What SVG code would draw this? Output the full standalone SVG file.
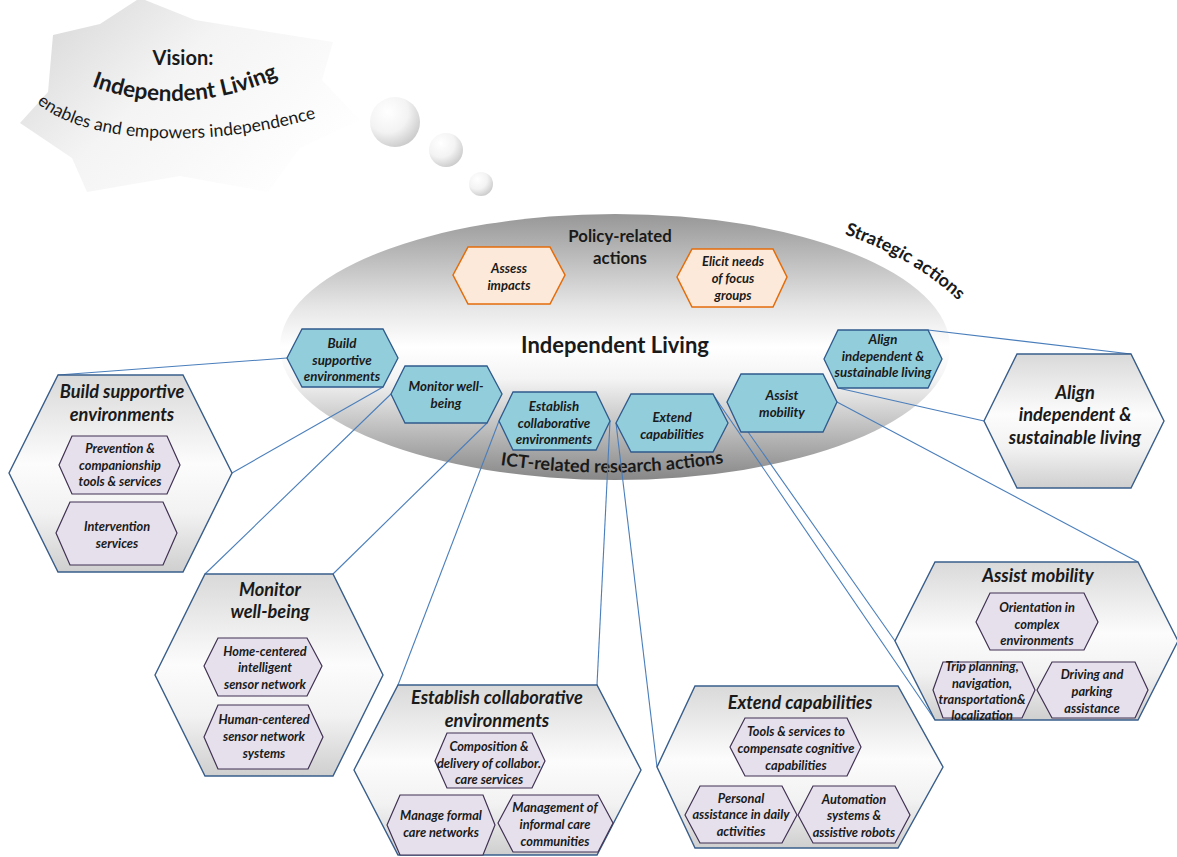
<svg xmlns="http://www.w3.org/2000/svg" width="1177" height="857" viewBox="0 0 1177 857">
<defs>
<linearGradient id="gEll" x1="0" y1="0" x2="0" y2="1">
<stop offset="0" stop-color="#979797"/><stop offset="0.35" stop-color="#e6e6e6"/><stop offset="0.5" stop-color="#ffffff"/><stop offset="0.62" stop-color="#f4f4f4"/><stop offset="1" stop-color="#878787"/>
</linearGradient>
<linearGradient id="gBig" x1="0" y1="0" x2="0" y2="1">
<stop offset="0" stop-color="#d9d9d9"/><stop offset="0.45" stop-color="#fcfcfc"/><stop offset="0.7" stop-color="#f2f2f2"/><stop offset="1" stop-color="#cfcfcf"/>
</linearGradient>
<linearGradient id="gCloud" x1="0" y1="0.1" x2="1" y2="0.7">
<stop offset="0" stop-color="#d6d6d6"/><stop offset="0.45" stop-color="#f4f4f4"/><stop offset="1" stop-color="#ffffff"/>
</linearGradient>
<radialGradient id="gBub" cx="0.35" cy="0.3" r="0.75">
<stop offset="0" stop-color="#ffffff"/><stop offset="0.55" stop-color="#f3f3f3"/><stop offset="1" stop-color="#cacaca"/>
</radialGradient>
<style>
.blue{fill:#92cddc;stroke:#2f5a8c;stroke-width:1.3}
.orange{fill:#fde9d9;stroke:#e46c0a;stroke-width:1.5}
.sub{fill:#e5e0ec;stroke:#403152;stroke-width:1.2}
.big{fill:url(#gBig);stroke:#385d8a;stroke-width:1.4}
.conn line{stroke:#4a7ebb;stroke-width:1.1}
text{font-family:Lato,"Open Sans","Liberation Sans",sans-serif;fill:#1a1a1a}
.t{font-weight:bold;font-style:italic;font-size:13.3px;text-anchor:middle}
.to{font-weight:bold;font-style:italic;font-size:13px;text-anchor:middle}
.ts{font-weight:bold;font-style:italic;font-size:12.8px;text-anchor:middle}
.tb{font-weight:bold;font-style:italic;font-size:18.2px;text-anchor:middle}
.h{font-weight:bold;text-anchor:middle}
</style>
</defs>
<rect width="1177" height="857" fill="#ffffff"/>

<g id="vision">
<polygon points="53,35 100,24 140,-2 195,20 333,42 322,80 360,120 300,148 268,192 180,176 87,192 72,158 20,123 48,92" fill="url(#gCloud)"/>
<text class="h" x="183" y="65" font-size="20">Vision:</text>
<path id="pIL" d="M 88 85 Q 182 121 282 76" fill="none"/>
<text class="h" font-size="22.5"><textPath href="#pIL" startOffset="50%">Independent Living</textPath></text>
<path id="pEn" d="M 34 100 C 75 142, 200 152, 320 117" fill="none"/>
<text font-size="17.5" text-anchor="middle"><textPath href="#pEn" startOffset="50%">enables and empowers independence</textPath></text>
<circle cx="395" cy="122" r="25" fill="url(#gBub)"/>
<circle cx="446" cy="150" r="17" fill="url(#gBub)"/>
<circle cx="481" cy="184" r="12" fill="url(#gBub)"/>
</g>

<g id="core">
<ellipse cx="615" cy="347" rx="335" ry="133" fill="url(#gEll)"/>
<text class="h" x="620" y="242" font-size="16.8">Policy-related</text>
<text class="h" x="620" y="264" font-size="16.8">actions</text>
<text class="h" x="615" y="353" font-size="22">Independent Living</text>
<path id="pICT" d="M 494 464 Q 612 482 730 462" fill="none"/>
<text class="h" font-size="18"><textPath href="#pICT" startOffset="50%">ICT-related research actions</textPath></text>
<path id="pStr" d="M 834 231 Q 915 256 966 308" fill="none"/>
<text class="h" font-size="18"><textPath href="#pStr" startOffset="50%">Strategic actions</textPath></text>
</g>

<g id="connectors" class="conn">
<line x1="287" y1="358" x2="58" y2="375"/>
<line x1="383" y1="387" x2="232" y2="473"/>
<line x1="391" y1="394" x2="205" y2="574"/>
<line x1="487" y1="423" x2="333" y2="574"/>
<line x1="499" y1="421" x2="398" y2="685"/>
<line x1="610" y1="421" x2="597" y2="685"/>
<line x1="616" y1="423" x2="657" y2="767"/>
<line x1="714" y1="396" x2="935" y2="720"/>
<line x1="727" y1="402" x2="895" y2="641"/>
<line x1="837" y1="402" x2="1138" y2="562"/>
<line x1="928" y1="330" x2="1131" y2="354"/>
<line x1="838" y1="388" x2="984" y2="421"/>
</g>

<g id="assess-impacts">
<polygon class="orange" points="453,275 468,247 550,247 565,275 550,304 468,304"/>
<text class="to" x="509" y="273">Assess</text><text class="to" x="509" y="290">impacts</text>
</g>
<g id="elicit-needs">
<polygon class="orange" points="677,277 692,249 773,249 787,277 773,307 692,307"/>
<text class="to" x="733" y="266">Elicit needs</text><text class="to" x="733" y="283">of focus</text><text class="to" x="733" y="300">groups</text>
</g>

<g id="s-build">
<polygon class="blue" points="287,358 302,329 383,329 398,358 383,387 302,387"/>
<text class="t" x="342" y="348">Build</text><text class="t" x="342" y="365">supportive</text><text class="t" x="342" y="381">environments</text>
</g>
<g id="s-monitor">
<polygon class="blue" points="391,394 405,366 487,366 502,394 487,423 405,423"/>
<text class="t" x="446" y="391">Monitor well-</text><text class="t" x="446" y="408">being</text>
</g>
<g id="s-establish">
<polygon class="blue" points="499,421 513,392 596,392 610,421 596,450 513,450"/>
<text class="t" x="554" y="411">Establish</text><text class="t" x="554" y="428">collaborative</text><text class="t" x="554" y="444">environments</text>
</g>
<g id="s-extend">
<polygon class="blue" points="616,423 631,394 713,394 728,423 713,452 631,452"/>
<text class="t" x="672" y="422">Extend</text><text class="t" x="672" y="439">capabilities</text>
</g>
<g id="s-assist">
<polygon class="blue" points="727,402 741,374 823,374 837,402 823,432 741,432"/>
<text class="t" x="782" y="400">Assist</text><text class="t" x="782" y="417">mobility</text>
</g>
<g id="s-align">
<polygon class="blue" points="824,359 838,330 928,330 942,359 928,388 838,388"/>
<text class="t" x="883" y="344">Align</text><text class="t" x="883" y="361">independent &amp;</text><text class="t" x="883" y="377">sustainable living</text>
</g>

<g id="b-build">
<polygon class="big" points="9,473 58,375 183,375 232,473 183,572 58,572"/>
<text class="tb" x="122" y="398">Build supportive</text><text class="tb" x="122" y="421">environments</text>
<polygon class="sub" points="59,465 72,436 167,436 180,465 167,494 72,494"/>
<text class="ts" x="120" y="453">Prevention &amp;</text><text class="ts" x="120" y="470">companionship</text><text class="ts" x="120" y="486">tools &amp; services</text>
<polygon class="sub" points="56,533 70,502 163,502 177,533 163,565 70,565"/>
<text class="ts" x="117" y="531">Intervention</text><text class="ts" x="117" y="548">services</text>
</g>

<g id="b-monitor">
<polygon class="big" points="155,675 205,574 333,574 383,675 333,776 205,776"/>
<text class="tb" x="270" y="596">Monitor</text><text class="tb" x="270" y="618">well-being</text>
<polygon class="sub" points="204,666 218,638 307,638 322,666 307,696 218,696"/>
<text class="ts" x="265" y="656">Home-centered</text><text class="ts" x="265" y="672">intelligent</text><text class="ts" x="265" y="689">sensor network</text>
<polygon class="sub" points="204,737 218,705 308,705 323,737 308,769 218,769"/>
<text class="ts" x="264" y="724">Human-centered</text><text class="ts" x="264" y="741">sensor network</text><text class="ts" x="264" y="758">systems</text>
</g>

<g id="b-establish">
<polygon class="big" points="354,770 398,685 597,685 641,770 597,855 398,855"/>
<text class="tb" x="497" y="704">Establish collaborative</text><text class="tb" x="497" y="727">environments</text>
<polygon class="sub" points="435,761 447,733 532,733 545,761 532,788 447,788"/>
<text class="ts" x="489" y="751">Composition &amp;</text><text class="ts" x="489" y="768">delivery of collabor.</text><text class="ts" x="489" y="784">care services</text>
<polygon class="sub" points="387,825 400,795 483,795 495,825 483,855 400,855"/>
<text class="ts" x="441" y="820">Manage formal</text><text class="ts" x="441" y="837">care networks</text>
<polygon class="sub" points="498,823 513,795 598,795 613,823 598,852 513,852"/>
<text class="ts" x="555" y="812">Management of</text><text class="ts" x="555" y="829">informal care</text><text class="ts" x="555" y="846">communities</text>
</g>

<g id="b-extend">
<polygon class="big" points="657,767 695,686 898,686 943,767 898,848 695,848"/>
<text class="tb" x="800" y="709">Extend capabilities</text>
<polygon class="sub" points="730,747 745,718 847,718 861,747 847,776 745,776"/>
<text class="ts" x="796" y="736">Tools &amp; services to</text><text class="ts" x="796" y="753">compensate cognitive</text><text class="ts" x="796" y="770">capabilities</text>
<polygon class="sub" points="685,815 700,786 782,786 797,815 782,843 700,843"/>
<text class="ts" x="741" y="803">Personal</text><text class="ts" x="741" y="819">assistance in daily</text><text class="ts" x="741" y="836">activities</text>
<polygon class="sub" points="798,815 813,786 895,786 910,815 895,843 813,843"/>
<text class="ts" x="854" y="804">Automation</text><text class="ts" x="854" y="820">systems &amp;</text><text class="ts" x="854" y="837">assistive robots</text>
</g>

<g id="b-assist">
<polygon class="big" points="895,641 935,562 1138,562 1178,641 1138,720 935,720"/>
<text class="tb" x="1038" y="582">Assist mobility</text>
<polygon class="sub" points="976,622 990,593 1084,593 1098,622 1084,650 990,650"/>
<text class="ts" x="1037" y="612">Orientation in</text><text class="ts" x="1037" y="629">complex</text><text class="ts" x="1037" y="645">environments</text>
<polygon class="sub" points="933,690 943,662 1022,662 1035,690 1022,718 943,718"/>
<text class="ts" x="982" y="671">Trip planning,</text><text class="ts" x="982" y="688">navigation,</text><text class="ts" x="982" y="704">transportation&amp;</text><text class="ts" x="982" y="720">localization</text>
<polygon class="sub" points="1037,690 1052,662 1135,662 1148,690 1135,718 1052,718"/>
<text class="ts" x="1092" y="679">Driving and</text><text class="ts" x="1092" y="696">parking</text><text class="ts" x="1092" y="713">assistance</text>
</g>

<g id="b-align">
<polygon class="big" points="984,421 1017,354 1131,354 1164,421 1131,488 1017,488"/>
<text class="tb" x="1075" y="399" font-size="19">Align</text><text class="tb" x="1075" y="421" font-size="19">independent &amp;</text><text class="tb" x="1075" y="444" font-size="19">sustainable living</text>
</g>
</svg>
